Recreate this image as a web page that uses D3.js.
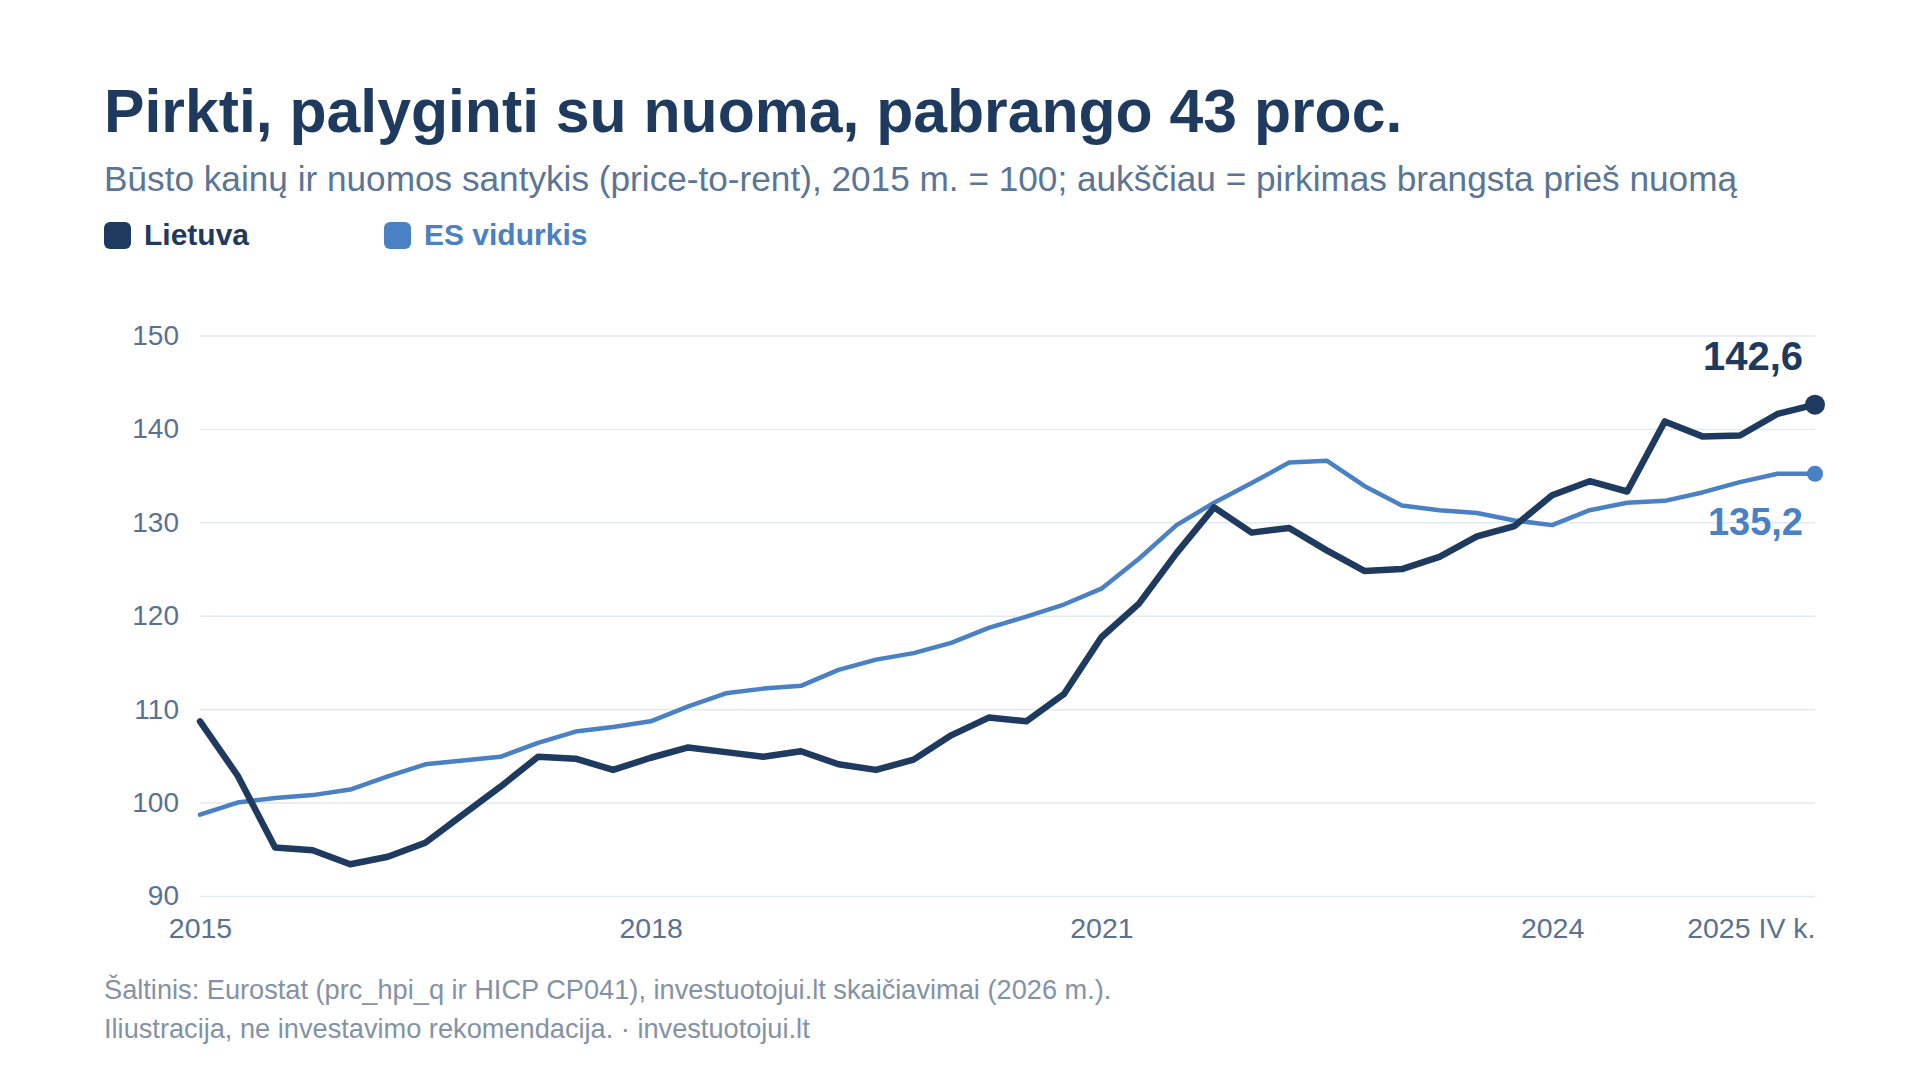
<!DOCTYPE html>
<html>
<head>
<meta charset="utf-8">
<script src="https://cdn.jsdelivr.net/npm/d3@7"></script>
<style>
  body { margin: 0; background: #fff; }
  text { font-family: "Liberation Sans", Arial, sans-serif; }
</style>
</head>
<body>
<div id="chart"></div>
<script>
// quarters 2015 I k. .. 2025 IV k.
const quarters = d3.range(44);
const lietuva = [108.7, 102.9, 95.2, 94.9, 93.4, 94.2, 95.7, 98.7, 101.7, 104.9, 104.7,
  103.5, 104.8, 105.9, 105.4, 104.9, 105.5, 104.1, 103.5, 104.6, 107.2, 109.1, 108.7,
  111.6, 117.7, 121.3, 126.7, 131.6, 128.9, 129.4, 127.0, 124.8, 125.0, 126.3, 128.5,
  129.6, 132.9, 134.4, 133.3, 140.8, 139.2, 139.3, 141.6, 142.6];
const esVidurkis = [98.7, 100.0, 100.5, 100.8, 101.4, 102.8, 104.1, 104.5, 104.9, 106.4,
  107.6, 108.1, 108.7, 110.3, 111.7, 112.2, 112.5, 114.2, 115.3, 116.0, 117.1, 118.7,
  119.9, 121.2, 122.9, 126.1, 129.7, 132.1, 134.2, 136.4, 136.6, 133.9, 131.8, 131.3,
  131.0, 130.2, 129.7, 131.3, 132.1, 132.3, 133.2, 134.3, 135.2, 135.2];
const yTicks = [90, 100, 110, 120, 130, 140, 150];
const xTickIdx = [0, 12, 24, 36, 43];
const xTickLabels = ["2015", "2018", "2021", "2024", "2025 IV k."];

const navy = "#1f3a5f";
const blue = "#4a80c4";

const svg = d3.select("#chart").append("svg").attr("width", 1920).attr("height", 1080);
const margins = { top: 335.5, left: 200, right: 105, bottom: 184 };
const chartWidth = 1920 - margins.left - margins.right;
const chartHeight = 1080 - margins.top - margins.bottom;

const x = d3.scaleLinear().domain([0, 43]).range([0, chartWidth]);
const y = d3.scaleLinear().domain([90, 150]).range([chartHeight, 0]);

// title, subtitle
svg.append("text").attr("x", 104).attr("y", 132)
  .attr("font-size", 60.7).attr("font-weight", "bold").attr("fill", navy)
  .text("Pirkti, palyginti su nuoma, pabrango 43 proc.");
svg.append("text").attr("x", 104).attr("y", 191)
  .attr("font-size", 35.2).attr("fill", "#5b7595")
  .text("Būsto kainų ir nuomos santykis (price-to-rent), 2015 m. = 100; aukščiau = pirkimas brangsta prieš nuomą");

// legend
const legend = [{ name: "Lietuva", color: navy, x: 104 }, { name: "ES vidurkis", color: blue, x: 384 }];
legend.forEach(l => {
  svg.append("rect").attr("x", l.x).attr("y", 222).attr("width", 27).attr("height", 27)
    .attr("rx", 6).attr("fill", l.color);
  svg.append("text").attr("x", l.x + 40).attr("y", 245)
    .attr("font-size", 30).attr("font-weight", "bold").attr("fill", l.color)
    .text(l.name);
});

const chartArea = svg.append("g").attr("transform", `translate(${margins.left},${margins.top})`);

// y gridlines + labels
const leftAxis = d3.axisLeft(y).tickValues(yTicks).tickSize(-chartWidth).tickPadding(21);
const gy = chartArea.append("g").call(leftAxis);
gy.select(".domain").remove();
gy.selectAll(".tick line").attr("stroke", "#e3e9f1").attr("stroke-width", 1.5);
gy.selectAll(".tick text").attr("font-size", 28).attr("fill", "#5a7192")
  .attr("font-family", "Liberation Sans, Arial, sans-serif");

// x labels
const bottomAxis = d3.axisBottom(x).tickValues(xTickIdx)
  .tickFormat((d, i) => xTickLabels[i]).tickSize(0).tickPadding(22);
const gx = chartArea.append("g").attr("transform", `translate(0,${chartHeight})`).call(bottomAxis);
gx.select(".domain").remove();
gx.selectAll(".tick text").attr("font-size", 28.5).attr("fill", "#5a7192")
  .attr("font-family", "Liberation Sans, Arial, sans-serif")
  .attr("text-anchor", (d, i) => i === xTickIdx.length - 1 ? "end" : "middle");

// lines
const line = d3.line().x((d, i) => x(quarters[i])).y(d => y(d));
chartArea.append("path").datum(esVidurkis)
  .attr("d", line).attr("fill", "none").attr("stroke", blue)
  .attr("stroke-width", 4.5).attr("stroke-linejoin", "round").attr("stroke-linecap", "round");
chartArea.append("path").datum(lietuva)
  .attr("d", line).attr("fill", "none").attr("stroke", navy)
  .attr("stroke-width", 6.5).attr("stroke-linejoin", "round").attr("stroke-linecap", "round");

// end points and labels
const last = quarters.length - 1;
chartArea.append("circle").attr("cx", x(last)).attr("cy", y(esVidurkis[last])).attr("r", 8).attr("fill", blue);
chartArea.append("circle").attr("cx", x(last)).attr("cy", y(lietuva[last])).attr("r", 10).attr("fill", navy);
const fmt = v => v.toFixed(1).replace(".", ",");
chartArea.append("text").attr("x", x(last) - 12).attr("y", y(lietuva[last]) - 35)
  .attr("text-anchor", "end").attr("font-size", 40).attr("font-weight", "bold").attr("fill", navy)
  .text(fmt(lietuva[last]));
chartArea.append("text").attr("x", x(last) - 12).attr("y", y(esVidurkis[last]) + 61)
  .attr("text-anchor", "end").attr("font-size", 38).attr("font-weight", "bold").attr("fill", blue)
  .text(fmt(esVidurkis[last]));

// footer
svg.append("text").attr("x", 104).attr("y", 999).attr("font-size", 27.2).attr("fill", "#8492a6")
  .text("Šaltinis: Eurostat (prc_hpi_q ir HICP CP041), investuotojui.lt skaičiavimai (2026 m.).");
svg.append("text").attr("x", 104).attr("y", 1038).attr("font-size", 27.2).attr("fill", "#8492a6")
  .text("Iliustracija, ne investavimo rekomendacija. · investuotojui.lt");
</script>
</body>
</html>
